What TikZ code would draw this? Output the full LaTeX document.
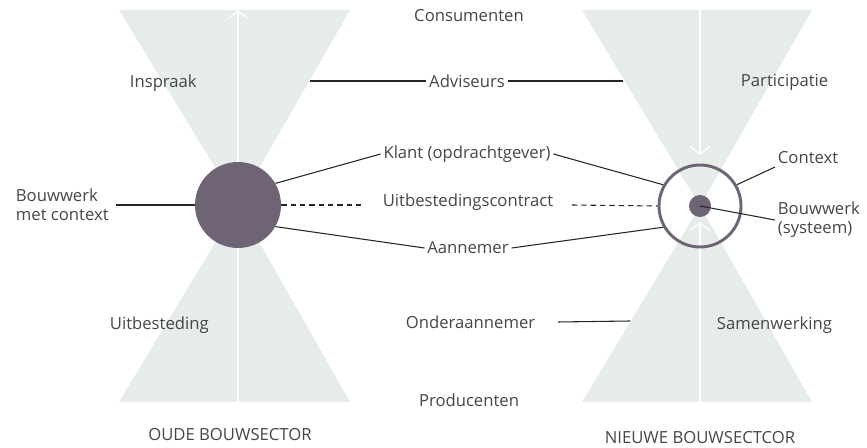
\documentclass[tikz,border=0pt]{standalone}
\usepackage{fontspec}
\setmainfont{Open Sans}
\usepackage{xcolor}
\usetikzlibrary{calc, arrows.meta, positioning}
\definecolor{vlak}{HTML}{E6ECE8}
\definecolor{paars}{HTML}{6F6475}
\definecolor{tekst}{HTML}{454545}

\begin{document}
\begin{tikzpicture}[x=0.75pt, y=-0.75pt,
    lbl/.style={text=tekst, font=\fontsize{12.5}{14}\selectfont, inner sep=2pt},
    pijl/.style={draw=white, line width=1pt, -{Straight Barb[length=6pt, width=15pt, line width=1pt]}},
    lijn/.style={draw=black!85, line width=0.8pt}]
    \useasboundingbox (0,0) rectangle (867,448);

    % Zandlopers
    \fill[vlak] (119,10) -- (350,10) -- (238,205) -- cycle;
    \fill[vlak] (119,402) -- (350,402) -- (238,205) -- cycle;
    \fill[vlak] (582,10) -- (812,10) -- (700,206) -- cycle;
    \fill[vlak] (582,402) -- (812,402) -- (700,206) -- cycle;

    % Pijlen
    \draw[pijl, {Straight Barb[length=6pt, width=15pt, line width=1pt]}-] (238,10) -- (238,402);
    \draw[pijl] (700,10) -- (700,155);
    \draw[pijl] (700,402) -- (700,222);

    % Bouwwerken
    \node[circle, fill=paars, minimum size=64.5pt, inner sep=0pt] (oud) at (238,205) {};
    \node[circle, draw=paars, line width=2.2pt, minimum size=61.5pt, inner sep=0pt] (nieuw) at (700,206) {};
    \node[circle, fill=paars, minimum size=16.5pt, inner sep=0pt] (kern) at (700,206) {};

    % Teksten
    \node[lbl] (consument) at (469,16) {Consumenten};
    \node[lbl] (producent) at (469,400) {Producenten};
    \node[lbl] (adviseur) at (467,81) {Adviseurs};
    \node[lbl] (klant) at (467,154) {Klant (opdrachtgever)};
    \node[lbl] (contract) at (468,202) {Uitbestedingscontract};
    \node[lbl] (aannemer) at (468,248) {Aannemer};
    \node[lbl, anchor=west] (onder) at (403,322) {Onderaannemer};
    \node[lbl, anchor=west] (inspraak) at (127,83) {Inspraak};
    \node[lbl, anchor=west] (uitbest) at (107,325) {Uitbesteding};
    \node[lbl, anchor=west] (particip) at (738,82) {Participatie};
    \node[lbl, anchor=west] (samenw) at (714,325) {Samenwerking};
    \node[lbl, anchor=west, align=left] (bwcontext) at (13,205) {Bouwwerk\\met context};
    \node[lbl, anchor=west] (context) at (775,158) {Context};
    \node[lbl, anchor=west, align=left] (systeem) at (775,220) {Bouwwerk\\(systeem)};
    \node[lbl] (oudsector) at (230,435) {OUDE BOUWSECTOR};
    \node[lbl] (nieuwsector) at (700,438) {NIEUWE BOUWSECTCOR};

    % Vrije eindpunten
    \coordinate (advL) at (310,81);
    \coordinate (advR) at (623,81);
    \coordinate (onderR) at (630,321);
    \coordinate (contrL) at (363,205);
    \coordinate (contrR) at (572,205);

    % Verbindingen
    \draw[lijn] (advL) -- (adviseur.west);
    \draw[lijn] (adviseur.east) -- (advR);
    \draw[lijn] (oud.30) -- (klant.west);
    \draw[lijn] (klant.east) -- (nieuw.150);
    \draw[lijn] (oud.-30) -- (aannemer.west);
    \draw[lijn] (aannemer.east) -- (nieuw.210);
    \draw[lijn, dash pattern=on 4pt off 3pt] (oud.east) -- (contrL);
    \draw[lijn, dash pattern=on 4pt off 3pt] (contrR) -- (nieuw.west);
    \draw[lijn] ([xshift=15pt]onder.east) -- (onderR);
    \draw[lijn] ([xshift=3pt]bwcontext.east) -- (oud.west);
    \draw[lijn] (nieuw.30) -- (context.south west);
    \draw[lijn] (kern.center) -- (systeem.west);
\end{tikzpicture}
\end{document}
